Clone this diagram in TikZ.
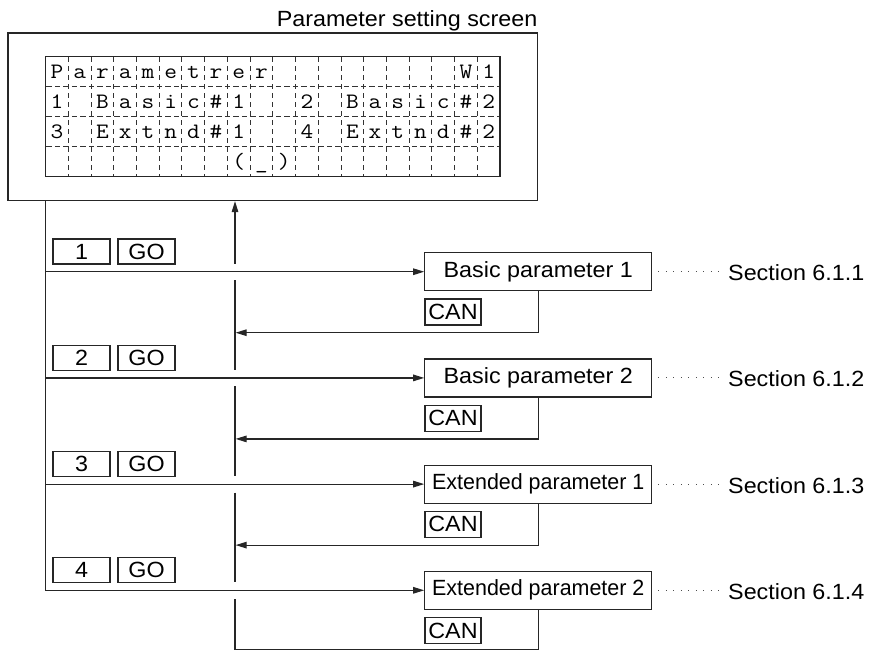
\documentclass[tikz,border=0pt]{standalone}
\usepackage{fontspec}
\setmainfont{Liberation Sans}[FakeStretch=1.06]
\usepackage{graphicx}
\usetikzlibrary{arrows.meta,calc}
\newcommand{\lcdw}[1]{\scalebox{1.12}[1]{#1}}
\begin{document}
\begin{tikzpicture}[x=1pt,y=-1pt,
  ln/.style={line width=1.2pt, draw=black!85},
  arr/.style={-{Triangle[length=11pt,width=6.5pt]}},
  sfx/.style={font=\fontsize{22}{26}\selectfont},
  keybox/.style={draw=black!85, line width=1.1pt, minimum width=57pt, minimum height=25pt, inner sep=0pt, sfx},
  parbox/.style={draw=black!85, line width=1.2pt, minimum width=227pt, minimum height=38pt, inner sep=0pt, sfx},
  canbox/.style={draw=black!85, line width=1.1pt, minimum width=56pt, minimum height=26pt, inner sep=0pt, sfx},
  sec/.style={anchor=base west, inner sep=0pt, sfx},
  lcdch/.style={anchor=base, inner sep=0pt, font=\ttfamily\fontsize{22}{26}\selectfont},
  lcdgrid/.style={line width=1pt, draw=black!80},
  leader/.style={line width=1pt, draw=black!70, dash pattern=on 0.9pt off 6.6pt}
]
\useasboundingbox (0,0) rectangle (872,651);

% title and screen
\node[anchor=base east, inner sep=0pt, sfx] (title) at (537.5,26) {Parameter setting screen};
\node[ln, draw, minimum width=529.5pt, minimum height=167.5pt, inner sep=0pt] (screen) at (272.75,116.75) {};
\node[draw=black!85, line width=1.2pt, minimum width=454.3pt, minimum height=120pt, inner sep=0pt] (lcd) at (272.85,116.7) {};

% LCD grid
\foreach \k in {1,...,19}
  \draw[lcdgrid, dash pattern=on 5pt off 4pt] ({45.7+\k*22.715},57.3) -- ({45.7+\k*22.715},176.1);
\foreach \r in {1,2,3}
  \draw[lcdgrid, dash pattern=on 5.5pt off 3pt] (46.3,{56.7+\r*30}) -- (499.4,{56.7+\r*30});

% LCD characters
\foreach \c/\t in {1/P,2/a,3/r,4/a,5/m,6/e,7/t,8/r,9/e,10/r,19/W,20/1}
  \node[lcdch] (chA\c) at ({45.7+(\c-0.5)*22.715},78.3) {\lcdw{\t}};
\foreach \c/\t in {1/1,3/B,4/a,5/s,6/i,7/c,8/\#,9/1,12/2,14/B,15/a,16/s,17/i,18/c,19/\#,20/2}
  \node[lcdch] (chB\c) at ({45.7+(\c-0.5)*22.715},108.3) {\lcdw{\t}};
\foreach \c/\t in {1/3,3/E,4/x,5/t,6/n,7/d,8/\#,9/1,12/4,14/E,15/x,16/t,17/n,18/d,19/\#,20/2}
  \node[lcdch] (chC\c) at ({45.7+(\c-0.5)*22.715},138.3) {\lcdw{\t}};
\node[lcdch] (chD9) at ({45.7+8.5*22.715},168.3) {\lcdw{(}};
\node[lcdch] (chD10) at ({45.7+9.5*22.715},168.3) {\lcdw{\_}};
\node[lcdch] (chD11) at ({45.7+10.5*22.715},168.3) {\lcdw{)}};

% rows
\foreach \i/\y/\lab in {1/271.7/{Basic parameter 1},2/377.9/{Basic parameter 2},3/484.1/{\scalebox{0.92}[1]{Extended parameter 1}},4/590.3/{\scalebox{0.92}[1]{Extended parameter 2}}} {
  \node[keybox] (key\i) at (81.5,\y-20.2) {\i};
  \node[keybox] (go\i) at (146.5,\y-20.2) {GO};
  \node[parbox] (par\i) at (538.3,\y) {\lab};
  \node[canbox] (can\i) at (453,\y+40.3) {CAN};
  \node[sec] (sec\i) at (728,\y+9) {Section 6.1.\i};
  \coordinate (ld\i) at (719,\y);
  \draw[leader] ($(par\i.east)+(6,0)$) -- (ld\i);
}

% left line with branches
\draw[ln,arr] (lcd.west |- screen.south) |- (par4.west);
\foreach \i in {1,2,3}
  \draw[ln,arr] (lcd.west |- par\i.west) -- (par\i.west);

% middle return line
\coordinate (mid) at (235,0);
\draw[ln,arr] ($(mid |- par1.west)+(0,-8)$) -- (mid |- screen.south);
\foreach \i/\j in {1/2,2/3,3/4}
  \draw[ln] ($(mid |- par\i.west)+(0,8.5)$) -- ($(mid |- par\j.west)+(0,-8)$);
\foreach \i in {1,2,3}
  \draw[ln,arr] (par\i.south) |- ($(mid |- par\i.west)+(0.6,61)$);
\draw[ln] (par4.south) |- ($(mid |- par4.west)+(0,59.3)$) -- ($(mid |- par4.west)+(0,8.5)$);
\end{tikzpicture}
\end{document}
